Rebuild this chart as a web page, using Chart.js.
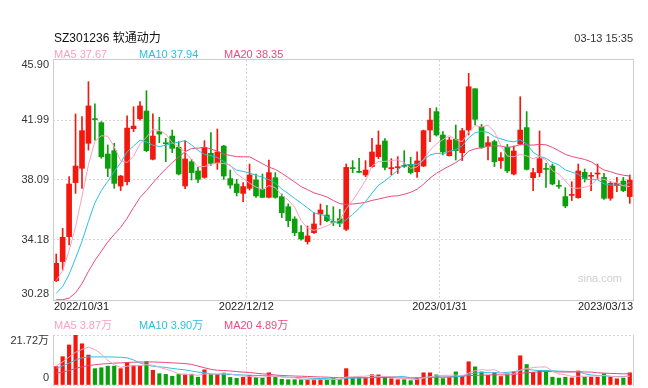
<!DOCTYPE html>
<html><head><meta charset="utf-8">
<script src="https://cdn.jsdelivr.net/npm/chart.js@4.4.0/dist/chart.umd.min.js"></script>
<style>
html,body{margin:0;padding:0;background:#fff;}
#wrap{position:relative;width:648px;height:388px;overflow:hidden;font-family:"Liberation Sans",Arial,"Noto Sans CJK SC",sans-serif;}
canvas{position:absolute;left:0;top:0;}
.t{position:absolute;white-space:nowrap;line-height:14px;height:14px;font-size:11px;}
</style></head><body>
<div id="wrap">
<canvas id="pc" width="648" height="388"></canvas>
<canvas id="vc" width="648" height="388"></canvas>
<div class="t" style="left:54px;top:31px;font-size:12px;color:#111;">SZ301236 软通动力</div>
<div class="t" style="right:15px;top:31px;color:#333;">03-13 15:35</div>
<div class="t" id="l1" style="left:54px;top:47px;"></div>
<div class="t" id="l2" style="left:139px;top:47px;"></div>
<div class="t" id="l3" style="left:224px;top:47px;"></div>
<div class="t" id="v1" style="left:54px;top:318px;"></div>
<div class="t" id="v2" style="left:139px;top:318px;"></div>
<div class="t" id="v3" style="left:224px;top:318px;"></div>
</div>
<script>
const categories = ['2022/10/31',
'2022/11/01','2022/11/02','2022/11/03','2022/11/04','2022/11/07','2022/11/08','2022/11/09','2022/11/10','2022/11/11',
'2022/11/14','2022/11/15','2022/11/16','2022/11/17','2022/11/18','2022/11/21','2022/11/22','2022/11/23','2022/11/24','2022/11/25',
'2022/11/28','2022/11/29','2022/11/30',
'2022/12/01','2022/12/02','2022/12/05','2022/12/06','2022/12/07','2022/12/08','2022/12/09',
'2022/12/12','2022/12/13','2022/12/14','2022/12/15','2022/12/16','2022/12/19','2022/12/20','2022/12/21','2022/12/22','2022/12/23',
'2022/12/26','2022/12/27','2022/12/28','2022/12/29','2022/12/30',
'2023/01/03','2023/01/04','2023/01/05','2023/01/06','2023/01/09','2023/01/10','2023/01/11','2023/01/12','2023/01/13',
'2023/01/16','2023/01/17','2023/01/18','2023/01/19','2023/01/20','2023/01/30','2023/01/31',
'2023/02/01','2023/02/02','2023/02/03','2023/02/06','2023/02/07','2023/02/08','2023/02/09','2023/02/10',
'2023/02/13','2023/02/14','2023/02/15','2023/02/16','2023/02/17','2023/02/20','2023/02/21','2023/02/22','2023/02/23','2023/02/24',
'2023/02/27','2023/02/28',
'2023/03/01','2023/03/02','2023/03/03','2023/03/06','2023/03/07','2023/03/08','2023/03/09','2023/03/10','2023/03/13'];

const opens = [31.54,32.78,34.40,37.92,38.85,40.48,42.06,41.82,39.78,40.00,
37.70,37.98,41.43,42.08,42.58,39.44,41.24,40.50,40.95,40.22,
37.70,39.28,38.68,38.26,39.83,39.22,40.30,38.18,37.83,37.22,
37.55,38.09,37.48,36.96,38.24,37.01,36.35,35.55,34.68,34.08,
34.66,35.88,35.81,35.40,35.57,34.88,38.87,38.63,38.42,38.96,
39.61,40.63,38.83,38.89,39.02,39.11,38.63,39.00,41.34,42.54,
41.02,39.67,40.74,39.87,41.34,44.03,41.56,40.30,40.59,39.35,
40.22,38.48,40.43,41.50,38.24,38.57,38.83,39.00,37.72,37.01,
37.09,36.94,38.59,38.33,38.48,38.26,36.90,37.72,38.02,37.01];
const highs = [33.27,34.94,38.31,42.39,42.21,44.49,43.04,41.89,40.37,40.48,
38.39,42.26,42.86,43.19,43.90,42.39,42.17,40.80,41.34,40.59,
40.65,39.44,38.91,40.65,41.17,41.41,40.35,38.74,38.13,37.92,
39.13,38.48,38.48,39.39,38.57,37.18,36.53,35.70,35.12,35.10,
35.96,36.53,36.44,36.35,36.18,39.13,39.35,39.50,39.35,40.80,
41.28,40.78,39.48,39.61,40.00,39.57,39.93,41.34,42.75,42.80,
41.24,40.87,41.67,41.45,45.03,44.03,41.71,40.91,40.69,39.87,
40.41,40.30,43.51,42.54,38.85,41.28,39.17,39.13,38.05,37.59,
37.98,39.13,38.81,38.57,39.13,38.52,37.98,38.26,38.26,38.42];
const lows = [31.47,32.23,33.86,37.22,37.55,40.04,40.69,39.50,38.31,37.55,
37.40,37.77,41.24,41.99,39.93,39.39,40.52,39.28,39.87,38.42,
37.53,38.09,37.92,38.20,39.04,38.78,38.13,37.55,37.05,36.68,
37.44,36.96,36.94,36.92,36.90,35.64,35.05,34.47,34.18,33.92,
34.62,35.16,35.38,35.12,35.05,34.79,38.57,38.57,38.31,38.91,
39.48,38.74,38.42,38.52,38.91,38.48,38.26,38.96,40.59,40.95,
39.72,39.65,39.39,39.35,41.02,41.67,40.15,39.39,38.96,38.85,
38.57,38.42,40.37,38.74,37.40,38.31,37.61,37.77,37.55,36.29,
36.75,36.90,37.96,37.40,38.13,36.83,36.77,37.33,37.33,36.57];
const closes = [32.67,34.36,37.83,39.00,41.30,42.91,42.02,39.61,38.85,37.87,
38.35,41.47,41.60,42.91,40.00,40.95,41.08,40.45,40.15,38.48,
39.46,38.57,38.13,40.22,39.17,39.91,38.35,37.76,37.27,37.66,
38.42,37.05,36.96,38.57,36.96,35.96,35.44,34.66,34.25,34.45,
35.23,36.14,35.44,35.33,35.27,38.91,38.83,38.59,38.74,39.91,
40.37,38.91,38.87,38.94,38.98,38.57,39.33,41.30,41.99,41.02,
39.91,40.69,40.00,41.30,44.16,42.04,40.22,40.52,39.28,39.54,
38.68,39.98,41.34,38.78,38.57,39.48,38.78,37.83,37.68,36.40,
37.14,38.68,38.18,38.37,38.52,36.90,37.87,37.87,37.40,38.09];

const ma5 = [31.55,32.20,33.50,35.05,37.03,39.08,40.61,40.97,40.94,40.25,
39.34,39.23,39.63,40.44,40.87,41.39,41.31,41.08,40.53,40.22,
39.92,39.42,38.96,38.97,39.11,39.20,39.16,39.08,38.49,38.19,
37.89,37.63,37.47,37.73,37.59,37.10,36.78,36.32,35.45,34.95,
34.81,34.95,35.10,35.32,35.48,36.22,36.76,37.39,38.07,39.00,
39.29,39.30,39.36,39.40,39.21,38.85,38.94,39.42,40.03,40.44,
40.71,40.98,40.72,40.58,41.21,41.64,41.54,41.65,41.24,40.32,
39.65,39.60,39.76,39.66,39.47,39.63,39.39,38.69,38.47,38.03,
37.57,37.55,37.62,37.75,38.18,38.13,37.97,37.91,37.71,37.67];
const ma10 = [30.72,31.15,31.95,33.00,34.10,35.40,36.60,37.40,38.00,38.64,
39.21,39.92,40.30,40.69,40.56,40.36,40.27,40.35,40.48,40.54,
40.66,40.37,40.02,39.75,39.67,39.56,39.29,39.02,38.73,38.65,
38.55,38.39,38.28,38.11,37.89,37.50,37.21,36.89,36.59,36.27,
35.95,35.86,35.71,35.39,35.22,35.51,35.85,36.24,36.69,37.24,
37.75,38.03,38.37,38.73,39.11,39.07,39.12,39.39,39.72,39.83,
39.78,39.96,40.07,40.31,40.83,41.17,41.26,41.19,40.91,40.77,
40.64,40.57,40.71,40.45,39.89,39.64,39.50,39.23,39.07,38.75,
38.60,38.47,38.15,38.11,38.11,37.85,37.76,37.76,37.73,37.94];
const ma20 = [30.30,30.30,30.40,30.75,31.35,32.15,32.85,33.45,34.05,34.55,
35.00,35.60,36.30,36.95,37.40,37.90,38.38,38.82,39.22,39.59,
39.93,40.14,40.16,40.22,40.11,39.96,39.78,39.69,39.61,39.60,
39.60,39.38,39.15,38.93,38.78,38.53,38.25,37.96,37.66,37.46,
37.25,37.13,36.99,36.75,36.55,36.50,36.53,36.57,36.64,36.76,
36.85,36.95,37.04,37.06,37.16,37.29,37.49,37.82,38.21,38.53,
38.77,39.00,39.22,39.52,39.97,40.12,40.19,40.29,40.32,40.30,
40.21,40.27,40.39,40.38,40.36,40.41,40.38,40.21,39.99,39.76,
39.62,39.52,39.43,39.28,39.00,38.74,38.63,38.49,38.40,38.35];

const volumes = [8.0,12.3,17.4,21.72,17.9,13.0,7.1,7.5,8.2,8.2,
7.1,9.8,8.4,8.5,10.2,6.4,4.9,4.6,3.8,4.6,
4.7,4.7,3.4,6.6,4.6,4.6,5.2,3.3,2.9,3.3,
4.2,3.3,3.0,5.3,3.3,2.5,2.3,2.3,2.3,2.3,
2.3,2.5,2.4,2.8,2.4,7.1,3.2,3.2,3.2,4.5,
4.4,3.4,2.7,2.3,2.3,1.9,3.1,5.3,5.3,4.4,
2.8,3.4,5.7,4.0,10.1,7.9,5.7,4.2,5.3,3.7,
4.9,5.7,12.7,8.9,5.5,6.3,5.9,3.4,3.0,3.4,
3.1,6.1,3.4,3.4,3.4,4.9,3.5,2.7,3.0,5.3];
const vma5 = [8.3,10.0,12.2,14.2,15.46,16.46,15.42,13.44,10.74,8.80,
7.62,8.16,8.34,8.40,8.80,8.66,7.68,6.92,5.98,4.86,
4.52,4.48,4.24,4.80,4.80,4.78,4.88,4.86,4.12,3.86,
3.78,3.40,3.34,3.82,3.82,3.48,3.28,3.14,2.54,2.34,
2.30,2.34,2.36,2.46,2.48,3.44,3.58,3.74,3.82,4.24,
3.70,3.74,3.64,3.46,3.02,2.52,2.46,2.98,3.58,4.00,
4.18,4.24,4.32,4.06,5.20,6.22,6.68,6.38,6.64,5.36,
4.76,4.76,6.46,7.18,7.54,7.82,7.86,6.00,4.82,4.40,
3.76,3.80,3.80,3.88,3.88,4.24,3.72,3.58,3.50,3.87];
const vma10 = [7.3,8.3,9.5,10.8,11.8,12.2,12.2,12.2,12.2,12.13,
12.04,11.79,10.89,9.57,8.80,8.14,7.92,7.63,7.19,6.83,
6.59,6.08,5.58,5.39,4.83,4.65,4.68,4.55,4.46,4.33,
4.28,4.14,4.10,3.97,3.84,3.63,3.34,3.24,3.18,3.08,
2.89,2.81,2.75,2.50,2.41,2.87,2.96,3.05,3.14,3.36,
3.57,3.66,3.69,3.64,3.63,3.11,3.10,3.31,3.52,3.51,
3.35,3.35,3.65,3.82,4.60,5.20,5.46,5.35,5.35,5.28,
5.49,5.72,6.42,6.91,6.45,6.29,6.31,6.23,6.00,5.97,
5.79,5.83,4.90,4.35,4.14,4.00,3.76,3.69,3.69,3.90];
const vma20 = [5.1,5.6,6.3,7.2,7.9,8.4,8.8,9.1,9.3,9.5,
9.6,9.8,9.9,10.0,10.0,10.0,9.9,9.8,9.6,9.48,
9.32,8.94,8.24,7.48,6.82,6.40,6.30,6.09,5.83,5.58,
5.44,5.11,4.84,4.68,4.34,4.14,4.01,3.90,3.82,3.71,
3.59,3.48,3.43,3.24,3.13,3.25,3.15,3.15,3.16,3.22,
3.23,3.24,3.22,3.07,3.02,2.99,3.03,3.18,3.33,3.44,
3.46,3.51,3.67,3.73,4.12,4.16,4.28,4.33,4.44,4.40,
4.42,4.54,5.04,5.37,5.53,5.75,5.89,5.79,5.68,5.63,
5.64,5.78,5.66,5.63,5.30,5.15,5.04,4.96,4.85,4.89];

const priceTicks = [30.28, 34.185, 38.09, 41.995, 45.90];
const priceTickLabels = ['30.28', '34.18', '38.09', '41.99', '45.90'];
const volTicks = [0, 21.72];
const volTickLabels = ['0', '21.72万'];
const xTickIndex = [0, 30, 60, 89];
const maLegend = ['MA5 37.67', 'MA10 37.94', 'MA20 38.35'];
const volLegend = ['MA5 3.87万', 'MA10 3.90万', 'MA20 4.89万'];

const UP = '#f2180e', DOWN = '#0b9f0b';
const C_MA5 = '#fb9fc0', C_MA10 = '#2bc0df', C_MA20 = '#ea4a7d';
const GRID = '#d6d6d6', FRAME = '#cdcdcd';
const FONT = '11px "Liberation Sans", Arial, "Noto Sans CJK SC", sans-serif';

[['l1',maLegend[0],C_MA5],['l2',maLegend[1],C_MA10],['l3',maLegend[2],C_MA20],
 ['v1',volLegend[0],C_MA5],['v2',volLegend[1],C_MA10],['v3',volLegend[2],C_MA20]].forEach(([id,t,c])=>{
  const e=document.getElementById(id); e.textContent=t; e.style.color=c; });

const candleColors = closes.map((c,i)=> c >= opens[i] ? UP : DOWN);
const xGridColor = (c) => (c.index === xTickIndex[1] || c.index === xTickIndex[2]) ? GRID : 'rgba(0,0,0,0)';

function lineDs(data, color, axis){
  return {type:'line', data, borderColor:color, borderWidth:1, pointRadius:0, tension:0, order:0, yAxisID:axis};
}

function drawXLabels(chart, y){
  const ctx = chart.ctx, xs = chart.scales.x, a = chart.chartArea;
  const slot = (a.right - a.left) / categories.length;
  ctx.font = FONT; ctx.fillStyle = '#222'; ctx.textBaseline = 'middle';
  xTickIndex.forEach((idx, j) => {
    const px = xs.getPixelForValue(idx) - slot/2;
    if (j === 0) { ctx.textAlign = 'left'; ctx.fillText(categories[idx], a.left + 1, y); }
    else if (j === xTickIndex.length - 1) { ctx.textAlign = 'right'; ctx.fillText(categories[idx], a.right, y); }
    else { ctx.textAlign = 'center'; ctx.fillText(categories[idx], px, y); }
  });
}

const pricePanel = {
  id: 'pricePanel',
  afterDraw(chart){
    const ctx = chart.ctx, a = chart.chartArea, ys = chart.scales.y;
    ctx.save();
    ctx.strokeStyle = FRAME; ctx.lineWidth = 1;
    ctx.strokeRect(a.left + 0.5, a.top - 0.5, a.right - a.left, a.bottom - a.top + 1);
    ctx.font = FONT; ctx.fillStyle = '#333'; ctx.textAlign = 'right'; ctx.textBaseline = 'middle';
    priceTicks.forEach((v, i) => {
      let py = ys.getPixelForValue(v);
      if (i === priceTicks.length - 1) py += 5;
      if (i === 0) py -= 6;
      ctx.fillText(priceTickLabels[i], a.left - 4, py);
    });
    drawXLabels(chart, a.bottom + 7);
    ctx.fillStyle = '#cfcfcf'; ctx.textAlign = 'right';
    ctx.font = '11px "Liberation Sans", Arial, sans-serif';
    ctx.fillText('sina.com', a.right - 11, a.bottom - 21);
    ctx.restore();
  }
};

const volPanel = {
  id: 'volPanel',
  afterDraw(chart){
    const ctx = chart.ctx, a = chart.chartArea, ys = chart.scales.y;
    ctx.save();
    ctx.strokeStyle = FRAME; ctx.lineWidth = 1;
    ctx.beginPath();
    ctx.moveTo(a.left + 0.5, a.top); ctx.lineTo(a.left + 0.5, a.bottom + 1);
    ctx.moveTo(a.right + 0.5, a.top); ctx.lineTo(a.right + 0.5, a.bottom + 1);
    ctx.stroke();
    ctx.font = FONT; ctx.fillStyle = '#333'; ctx.textAlign = 'right'; ctx.textBaseline = 'middle';
    volTicks.forEach((v, i) => {
      let py = ys.getPixelForValue(v);
      if (i === volTicks.length - 1) py += 6;
      if (i === 0) py -= 7;
      ctx.fillText(volTickLabels[i], a.left - 4, py);
    });
    ctx.restore();
  }
};

new Chart(document.getElementById('pc'), {
  type: 'bar',
  data: {
    labels: categories,
    datasets: [
      lineDs(ma5, C_MA5, 'y'), lineDs(ma10, C_MA10, 'y'), lineDs(ma20, C_MA20, 'y'),
      {type:'bar', data: opens.map((o,i)=>[o, closes[i]]), backgroundColor: candleColors, barThickness: 5, minBarLength: 1, grouped: false, order: 1, yAxisID:'y'},
      {type:'bar', data: lows.map((l,i)=>[l, highs[i]]), backgroundColor: candleColors, barThickness: 1, grouped: false, order: 2, yAxisID:'y'}
    ]
  },
  options: {
    responsive: false, animation: false, events: [],
    layout: {padding: {left: 53, right: 15, top: 60, bottom: 88}},
    plugins: {legend: {display: false}, tooltip: {enabled: false}},
    scales: {
      x: {type:'category', offset: true, grid: {offset: true, drawTicks: false, color: xGridColor}, border: {display: false, dash: [2,2]}, ticks: {display: false}},
      y: {type:'linear', min: priceTicks[0], max: priceTicks[priceTicks.length-1],
          afterBuildTicks: (s) => { s.ticks = priceTicks.map(v => ({value: v})); },
          grid: {drawTicks: false, color: (c) => (c.index === 0 || c.index === priceTicks.length - 1) ? 'rgba(0,0,0,0)' : GRID},
          border: {display: false, dash: [2,2]}, ticks: {display: false}}
    }
  },
  plugins: [pricePanel]
});

new Chart(document.getElementById('vc'), {
  type: 'bar',
  data: {
    labels: categories,
    datasets: [
      lineDs(vma5, C_MA5, 'y'), lineDs(vma10, C_MA10, 'y'), lineDs(vma20, C_MA20, 'y'),
      {type:'bar', data: volumes, backgroundColor: candleColors, barThickness: 3.5, order: 1, yAxisID:'y'}
    ]
  },
  options: {
    responsive: false, animation: false, events: [],
    layout: {padding: {left: 53, right: 15, top: 335, bottom: 3}},
    plugins: {legend: {display: false}, tooltip: {enabled: false}},
    scales: {
      x: {type:'category', offset: true, grid: {offset: true, drawTicks: false, color: xGridColor}, border: {display: false, dash: [2,2]}, ticks: {display: false}},
      y: {type:'linear', min: volTicks[0], max: volTicks[volTicks.length-1],
          afterBuildTicks: (s) => { s.ticks = volTicks.map(v => ({value: v})); },
          grid: {drawTicks: false, color: GRID}, border: {display: false, dash: [2,2]}, ticks: {display: false}}
    }
  },
  plugins: [volPanel]
});
</script>
</body></html>
